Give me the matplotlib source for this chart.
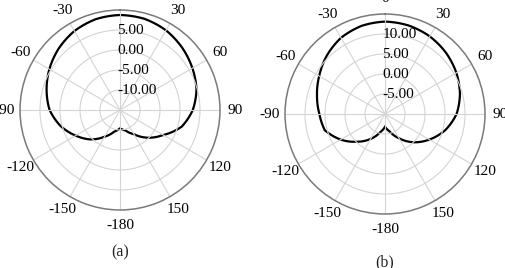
import numpy as np
import matplotlib
matplotlib.use("Agg")
import matplotlib.pyplot as plt
from matplotlib import transforms
from matplotlib.path import Path
from matplotlib.patches import PathPatch

# ---- data ----  (angles clockwise from top; 195 = -165, ..., 345 = -15)
angles_deg = [0, 15, 30, 45, 60, 75, 90, 105, 120, 135, 150, 165, 180,
              195, 210, 225, 240, 255, 270, 285, 300, 315, 330, 345, 360]
gain_a = [8.75, 8.6, 8.0, 7.0, 5.9, 4.8, 3.2, 1.0, -2.5, -5.2, -8.0, -9.7, -10.4,
          -9.4, -7.3, -4.6, -2.2, 0.4, 2.6, 4.0, 5.4, 6.7, 7.8, 8.5, 8.75]
gain_b = [13.1, 12.9, 12.4, 11.6, 10.6, 9.4, 7.9, 5.6, 2.8, 0.0, -3.0, -5.5, -6.8,
          -5.3, -2.8, -0.2, 2.8, 5.6, 6.4, 7.6, 9.0, 10.6, 12.0, 12.8, 13.1]

tick_angles = [0, 30, 60, 90, 120, 150, 180, 210, 240, 270, 300, 330]
tick_labels = ["0", "30", "60", "90", "120", "150", "-180", "-150", "-120", "-90", "-60", "-30"]

rings_a = [-10, -5, 0, 5]
rings_b = [-5, 0, 5, 10]
rlim_a = (-15, 10)
rlim_b = (-10, 15)

plt.rcParams['font.family'] = ['Liberation Serif', 'DejaVu Serif']

W, H = 505, 268
fig = plt.figure(figsize=(W / 100, H / 100), dpi=100)


def make_panel(cx, cy, R, gains, rings, rlim, caption, cap_y):
    ax = fig.add_axes([(cx - R) / W, (H - cy - R) / H, 2 * R / W, 2 * R / H],
                      projection='polar')
    ax.set_theta_zero_location('N')
    ax.set_theta_direction(-1)
    ax.set_rlim(*rlim)
    ax.set_yticks(rings)
    ax.set_yticklabels([])
    ax.set_xticks(np.deg2rad(tick_angles))
    ax.set_xticklabels(tick_labels, fontsize=11)
    ax.set_xticks(np.deg2rad(np.arange(0, 360, 5)), minor=True)
    ax.tick_params(axis='x', which='major', pad=4, direction='in', length=4,
                   color='#444444', width=1.0)
    ax.tick_params(axis='x', which='minor', direction='in', length=3.5,
                   color='#444444', width=0.9)
    ax.grid(True, color='#d4d4d4', lw=0.8)
    ax.spines['polar'].set_color('#7a7a7a')
    ax.spines['polar'].set_linewidth(1.1)
    verts = np.column_stack([np.deg2rad(angles_deg), gains])
    path = Path(verts, _interpolation_steps=30)
    ax.add_patch(PathPatch(path, fill=False, edgecolor='black', lw=1.6,
                           transform=ax.transData))
    off = transforms.offset_copy(ax.transData, fig=fig, x=-2.5, y=0, units='dots')
    for r in rings:
        ax.text(0, r, f"{r:.2f}", transform=off, ha='left', va='center',
                fontsize=11, color='black')
    fig.text(cx / W, 1 - cap_y / H, caption, ha='center', va='center',
             fontsize=11.5, color='#222222')
    return ax


make_panel(120, 110, 100, gain_a, rings_a, rlim_a, "(a)", 252)
make_panel(385, 114, 100, gain_b, rings_b, rlim_b, "(b)", 262)

fig.savefig("out.png", dpi=100)
